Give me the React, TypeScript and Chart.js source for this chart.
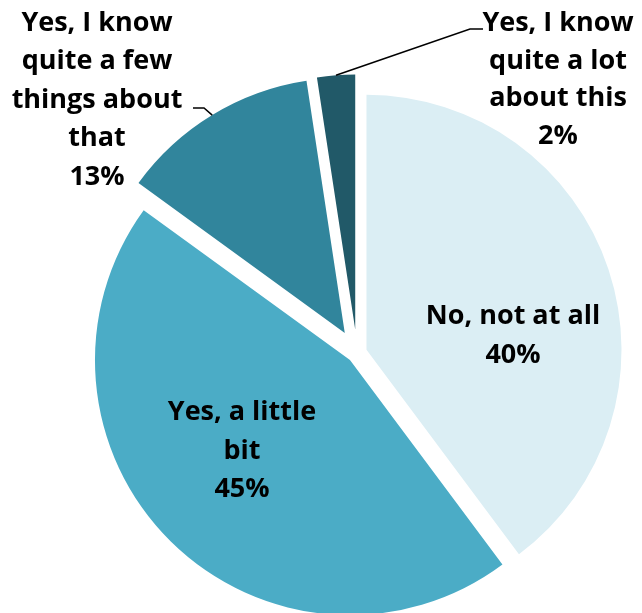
import React, { useEffect, useRef } from "react";
import { Chart, registerables } from "chart.js";

Chart.register(...registerables);

// ---- data ----
const CATEGORIES: string[][] = [
  ["No, not at all"],
  ["Yes, a little", "bit"],
  ["Yes, I know", "quite a few", "things about", "that"],
  ["Yes, I know", "quite a lot", "about this"],
];
const VALUES: number[] = [39.8, 45.2, 12.6, 2.4];

// ---- styles / layout ----
const COLORS = ["#DBEEF4", "#4BACC6", "#31859C", "#215968"];
const EXPLODE = [10, 10, 23.5, 23.5];
const RADIUS = 255;
const FONT = 'bold 27px "Open Sans", "Noto Sans", sans-serif';
// label placement: centre x, first baseline y, line pitch
const LABEL_LAYOUT = [
  { x: 513, y: 323.5, lh: 39.5 },
  { x: 242, y: 420, lh: 38.5 },
  { x: 97, y: 30.5, lh: 38.6 },
  { x: 558, y: 31, lh: 37.7 },
];
// leader line elbows (from label to slice)
const LEADERS: (number[][] | null)[] = [
  null,
  null,
  [
    [193, 108],
    [204, 108],
  ],
  [
    [483, 29],
    [470, 29],
  ],
];

const explodePlugin = {
  id: "explodeShift",
  afterDatasetsUpdate(chart: any) {
    const meta = chart.getDatasetMeta(0);
    meta.data.forEach((arc: any, i: number) => {
      const mid = (arc.startAngle + arc.endAngle) / 2;
      arc.x += Math.cos(mid) * EXPLODE[i];
      arc.y += Math.sin(mid) * EXPLODE[i];
    });
  },
};

const labelPlugin = {
  id: "sliceLabels",
  afterDatasetsDraw(chart: any) {
    const ctx: CanvasRenderingContext2D = chart.ctx;
    const meta = chart.getDatasetMeta(0);
    ctx.save();
    ctx.font = FONT;
    ctx.fillStyle = "#000000";
    ctx.textAlign = "center";
    ctx.textBaseline = "alphabetic";
    CATEGORIES.forEach((lines, i) => {
      const L = LABEL_LAYOUT[i];
      const all = [...lines, `${Math.round(VALUES[i])}%`];
      all.forEach((t, j) => ctx.fillText(t, L.x, L.y + j * L.lh));
      const pts = LEADERS[i];
      if (pts) {
        const arc = meta.data[i];
        const mid = (arc.startAngle + arc.endAngle) / 2;
        const ex = arc.x + Math.cos(mid) * arc.outerRadius;
        const ey = arc.y + Math.sin(mid) * arc.outerRadius;
        ctx.beginPath();
        ctx.strokeStyle = "#000000";
        ctx.lineWidth = 1.5;
        ctx.moveTo(pts[0][0], pts[0][1]);
        for (let k = 1; k < pts.length; k++) ctx.lineTo(pts[k][0], pts[k][1]);
        ctx.lineTo(ex, ey);
        ctx.stroke();
      }
    });
    ctx.restore();
  },
};

export default function App() {
  const ref = useRef<HTMLCanvasElement | null>(null);
  useEffect(() => {
    if (!ref.current) return;
    const chart = new Chart(ref.current, {
      type: "pie",
      data: {
        labels: CATEGORIES.map((l) => l.join(" ")),
        datasets: [
          {
            data: VALUES,
            backgroundColor: COLORS,
            borderWidth: 0,
            clip: false as any,
          },
        ],
      },
      options: {
        responsive: false,
        animation: false,
        events: [],
        radius: RADIUS,
        layout: { padding: { left: 72, right: 0, top: 93, bottom: 0 } },
        plugins: { legend: { display: false }, tooltip: { enabled: false } },
      } as any,
      plugins: [explodePlugin, labelPlugin],
    });
    return () => chart.destroy();
  }, []);
  return (
    <div style={{ position: "fixed", left: 0, top: 0, width: 642, height: 613, background: "#fff" }}>
      <canvas ref={ref} width={642} height={613} style={{ display: "block" }} />
    </div>
  );
}
